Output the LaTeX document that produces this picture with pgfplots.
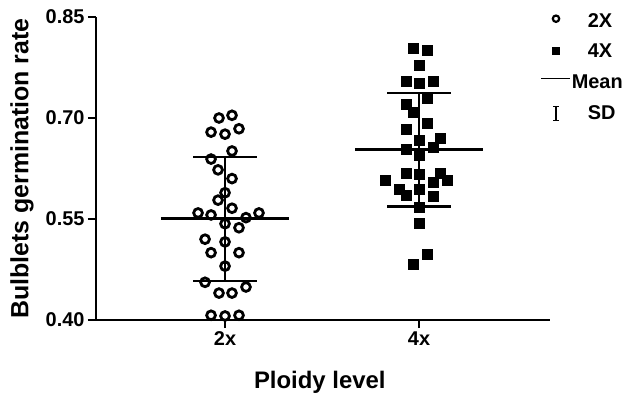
\documentclass[border=0pt]{standalone}
\usepackage{fontspec}
\setmainfont{Liberation Sans}
\usepackage{pgfplots}
\pgfplotsset{compat=1.18}

\begin{document}
\begin{tikzpicture}
\begin{axis}[
  name=ax,
  scale only axis,
  width=454bp, height=303bp,
  xmin=0.335, xmax=2.675,
  ymin=0.40, ymax=0.85,
  axis x line*=bottom, axis y line*=left,
  axis line style={line width=2.7bp, -},
  xtick={1,2}, xticklabels={2x,4x},
  ytick={0.40,0.55,0.70,0.85},
  y tick label style={/pgf/number format/.cd, fixed, fixed zerofill, precision=2},
  /pgf/number format/assume math mode=true,
  tick align=outside,
  major tick length=8bp,
  tick style={line width=2.7bp, black},
  tick label style={font=\fontsize{20}{20}\selectfont\bfseries},
  xlabel={Ploidy level}, ylabel={Bulblets germination rate},
  xlabel style={font=\fontsize{24}{24}\selectfont\bfseries, at={(axis description cs:0.493,-0.205)}, anchor=center},
  ylabel style={font=\fontsize{25}{25}\selectfont\bfseries, at={(axis description cs:-0.163,0.5)}, anchor=center},
  clip=false,
  legend style={at={(rel axis cs:1,1)}, anchor=north west, xshift=-10bp, yshift=3bp,
    draw=none, fill=none, inner sep=0pt, row sep=17.5bp, column sep=1bp,
    font=\fontsize{20}{20}\selectfont\bfseries,
    nodes={inner sep=0pt, text height=13bp, text depth=0bp}},
  legend cell align=left,
]
% 2X points
\addplot[forget plot, only marks, mark=o, mark size=4.4bp, mark options={line width=2.8bp, black}] coordinates {
  (0.969,0.700) (1.036,0.704) (0.928,0.679) (1.000,0.676) (1.072,0.684)
  (0.928,0.639) (1.036,0.651) (0.964,0.623) (1.036,0.610) (1.000,0.589)
  (0.964,0.578) (1.036,0.566) (0.861,0.559) (0.928,0.556) (1.175,0.559)
  (1.108,0.552) (1.000,0.543) (1.072,0.537) (0.897,0.520) (1.000,0.516)
  (0.928,0.500) (1.072,0.500) (1.000,0.480) (0.897,0.456) (1.108,0.449)
  (0.969,0.440) (1.036,0.440) (0.928,0.407) (1.000,0.406) (1.072,0.407)
};
% 4X points
\addplot[forget plot, only marks, mark=square*, mark size=5bp, black] coordinates {
  (1.969,0.803) (2.041,0.800) (2.000,0.779) (1.933,0.754) (2.000,0.751)
  (2.072,0.754) (2.041,0.730) (1.933,0.721) (1.969,0.709) (2.041,0.693)
  (1.933,0.684) (2.000,0.667) (2.108,0.670) (2.072,0.657) (1.933,0.654)
  (2.000,0.645) (1.933,0.618) (2.000,0.617) (2.108,0.618) (1.825,0.607)
  (2.072,0.605) (2.144,0.607) (1.897,0.595) (2.000,0.595) (1.933,0.586)
  (2.072,0.584) (2.000,0.568) (2.000,0.544) (2.041,0.497) (1.969,0.483)
};
% mean and SD, 2X
\addplot[forget plot, black, line width=2.7bp] coordinates {(0.67,0.551) (1.33,0.551)};
\addplot[forget plot, black, line width=2.7bp] coordinates {(1,0.458) (1,0.642)};
\addplot[forget plot, black, line width=2.7bp] coordinates {(0.835,0.642) (1.165,0.642)};
\addplot[forget plot, black, line width=2.7bp] coordinates {(0.835,0.458) (1.165,0.458)};
% mean and SD, 4X
\addplot[forget plot, black, line width=2.7bp] coordinates {(1.67,0.653) (2.33,0.653)};
\addplot[forget plot, black, line width=2.7bp] coordinates {(2,0.569) (2,0.737)};
\addplot[forget plot, black, line width=2.7bp] coordinates {(1.835,0.737) (2.165,0.737)};
\addplot[forget plot, black, line width=2.7bp] coordinates {(1.835,0.569) (2.165,0.569)};
% legend
\addlegendimage{legend image code/.code={\path (0,0) (28bp,0); \draw[black, line width=2.2bp] (15bp,2bp) circle (3.2bp);}}
\addlegendentry{\hspace{16bp}2X}
\addlegendimage{legend image code/.code={\path (0,0) (28bp,0); \fill[black] (11.5bp,-3.5bp) rectangle (18.5bp,3.5bp);}}
\addlegendentry{\hspace{16bp}4X}
\addlegendimage{legend image code/.code={\draw[black, line width=1.6bp] (0,3bp) -- (29bp,3bp);}}
\addlegendentry{Mean}
\addlegendimage{legend image code/.code={\path (0,0) (28bp,0); \draw[black, line width=1.4bp] (15bp,-7bp) -- (15bp,7bp) (12bp,-7bp) -- (18bp,-7bp) (12bp,7bp) -- (18bp,7bp);}}
\addlegendentry{\hspace{16bp}SD}
\end{axis}
\pgfresetboundingbox
\path[use as bounding box] ([shift={(-96bp,-81bp)}]ax.south west) rectangle ([shift={(532bp,320bp)}]ax.south west);
\end{tikzpicture}
\end{document}
